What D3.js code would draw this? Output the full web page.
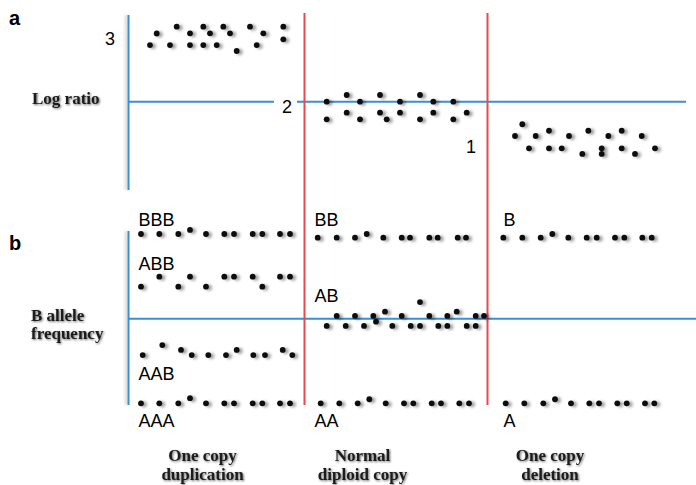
<!DOCTYPE html>
<html>
<head>
<meta charset="utf-8">
<script src="https://cdn.jsdelivr.net/npm/d3@7"></script>
<style>
  html, body { margin: 0; padding: 0; background: #fff; }
  svg { display: block; }
</style>
</head>
<body>
<svg id="chart" width="696" height="485"></svg>
<script>
// ---------------- DATA ----------------
// Region labels (bottom)
const regions = [
  ["One copy", "duplication"],
  ["Normal", "diploid copy"],
  ["One copy", "deletion"]
];
// Region boundaries (genomic position units)
const boundaries = [176.5, 359.5];

// Panel a: log ratio, [position, log ratio]
const logDup = [[28.7,0.62],[22,0.515],[48.7,0.682],[42,0.515],[62,0.622],[62,0.515],[75.3,0.682],[82,0.622],[75.3,0.515],[88.7,0.515],[95.3,0.682],[102,0.622],[108.7,0.461],[122,0.682],[135.3,0.622],[128.7,0.515],[155.3,0.682],[155.3,0.567]];
const logNormal = [[198.7,0],[198.7,-0.16],[218.7,0.061],[218.7,-0.1],[232,0],[232,-0.16],[252,0.061],[252,-0.1],[258.7,-0.16],[272,0],[272,-0.1],[292,0.061],[292,-0.16],[305.3,0],[305.3,-0.1],[325.3,0],[325.3,-0.16],[338.7,-0.1]];
const logDel = [[394.3,-0.205],[387,-0.312],[407.7,-0.312],[421,-0.264],[401,-0.424],[421,-0.424],[433.7,-0.424],[441,-0.312],[454.3,-0.475],[460.3,-0.264],[473.7,-0.424],[473.7,-0.475],[480.3,-0.312],[493.7,-0.264],[493.7,-0.424],[507,-0.475],[513.7,-0.312],[527,-0.424]];
// Copy-number labels in panel a: [label, position, log ratio]
const cnLabels = [["3",-23,0.52],["2",154,-0.1],["1",338,-0.47]];

// Panel b: B allele frequency, [position, BAF]
const bafBBB = [[13,1],[31.3,1],[50.3,1],[62,1.024],[78,1],[96.3,1],[106,1],[124.7,1],[134.3,1],[152,1],[162,1]];
const bafABB = [[13,0.689],[31.3,0.748],[50.3,0.689],[62,0.748],[78,0.689],[96.3,0.748],[106,0.748],[124.7,0.748],[134.3,0.689],[152,0.748],[162,0.748]];
const bafAAB = [[14.7,0.285],[34.3,0.344],[53,0.315],[63.7,0.285],[80.3,0.285],[98,0.285],[108.7,0.315],[125.3,0.285],[137,0.285],[154.7,0.315],[164.3,0.285]];
const bafAAA = [[13,0],[31.3,0],[50.3,0],[62,0.03],[78,0],[96.3,0],[106,0],[124.7,0],[134.3,0],[152,0],[162,0]];
const bafBB = [[189.7,0.978],[208.7,0.978],[227,0.978],[238.7,1.0],[255.3,0.978],[273.7,0.978],[282,0.978],[301.3,0.978],[309.7,0.978],[329.7,0.978],[338,0.978]];
const bafAB = [[198.7,0.457],[208.7,0.516],[217.7,0.457],[227,0.516],[236,0.457],[245.3,0.516],[248,0.482],[257,0.541],[264.3,0.457],[273.7,0.516],[282.7,0.457],[292,0.457],[292,0.598],[301.3,0.516],[310.3,0.457],[319.3,0.457],[319.3,0.516],[328.7,0.541],[338.7,0.457],[347.7,0.457],[347.7,0.516],[356,0.516]];
const bafAA = [[192.7,0],[211.3,0],[229.7,0],[241.3,0.024],[257.7,0],[276,0],[285.3,0],[303.7,0],[313,0],[331.3,0],[341,0]];
const bafB = [[375.3,0.978],[394.3,0.978],[412.7,0.978],[424.3,1.0],[440.3,0.978],[458.7,0.978],[468.7,0.978],[487,0.978],[496.3,0.978],[514.3,0.978],[523.7,0.978]];
const bafA = [[377.7,0],[396.3,0],[415.3,0],[427,0.024],[443,0],[461.3,0],[471,0],[489.3,0],[498.7,0],[517,0],[526.3,0]];
// Genotype labels in panel b: [label, position, BAF]
const gtLabels = [["BBB",10.5,1.05],["ABB",10.5,0.79],["AAB",10.5,0.14],["AAA",10.5,-0.14],
                  ["BB",186.5,1.05],["AB",186.5,0.6],["AA",186.5,-0.14],
                  ["B",375.5,1.05],["A",375.5,-0.14]];

// ---------------- DRAW ----------------
const svg = d3.select("#chart");
const BLUE = "#3a8fd2", RED = "#e8484e";

const x = d3.scaleLinear().domain([0, 558]).range([128, 686]);
const yA = d3.scaleLinear().domain([-1, 1]).range([211.7, -8.3]);
const yB = d3.scaleLinear().domain([0, 1]).range([403.3, 234]);

const defs = svg.append("defs");
const sh = defs.append("filter").attr("id","dotShadow").attr("filterUnits","userSpaceOnUse")
  .attr("x",0).attr("y",0).attr("width",696).attr("height",485);
sh.append("feGaussianBlur").attr("in","SourceAlpha").attr("stdDeviation",1.6).attr("result","b");
sh.append("feOffset").attr("in","b").attr("dx",2.5).attr("dy",1).attr("result","o");
sh.append("feComponentTransfer").attr("in","o").attr("result","s")
  .append("feFuncA").attr("type","linear").attr("slope",0.4);
const m1 = sh.append("feMerge"); m1.append("feMergeNode").attr("in","s"); m1.append("feMergeNode").attr("in","SourceGraphic");

const ts = defs.append("filter").attr("id","textShadow").attr("filterUnits","userSpaceOnUse")
  .attr("x",0).attr("y",0).attr("width",696).attr("height",485);
ts.append("feGaussianBlur").attr("in","SourceAlpha").attr("stdDeviation",1.3).attr("result","b");
ts.append("feOffset").attr("in","b").attr("dx",1).attr("dy",1.2).attr("result","o");
ts.append("feComponentTransfer").attr("in","o").attr("result","s")
  .append("feFuncA").attr("type","linear").attr("slope",0.6);
ts.append("feGaussianBlur").attr("in","SourceGraphic").attr("stdDeviation",0.45).attr("result","g");
const m2 = ts.append("feMerge"); m2.append("feMergeNode").attr("in","s"); m2.append("feMergeNode").attr("in","g");

const ls = defs.append("filter").attr("id","lineShadow").attr("filterUnits","userSpaceOnUse")
  .attr("x",0).attr("y",0).attr("width",696).attr("height",485);
ls.append("feGaussianBlur").attr("in","SourceAlpha").attr("stdDeviation",1.5).attr("result","b");
ls.append("feOffset").attr("in","b").attr("dx",-2).attr("dy",0).attr("result","o");
ls.append("feComponentTransfer").attr("in","o").attr("result","s")
  .append("feFuncA").attr("type","linear").attr("slope",0.25);
const m3 = ls.append("feMerge"); m3.append("feMergeNode").attr("in","s"); m3.append("feMergeNode").attr("in","SourceGraphic");

// Axis lines
const g = svg.append("g");
// panel a
g.append("line").attr("x1",x(0)+0.5).attr("x2",x(0)+0.5).attr("y1",15).attr("y2",190)
  .attr("stroke",BLUE).attr("stroke-width",2).attr("filter","url(#lineShadow)");
g.append("line").attr("x1",x(0)).attr("x2",x(146)).attr("y1",yA(0)).attr("y2",yA(0))
  .attr("stroke",BLUE).attr("stroke-width",2);
g.append("line").attr("x1",x(169)).attr("x2",x(558)).attr("y1",yA(0)).attr("y2",yA(0))
  .attr("stroke",BLUE).attr("stroke-width",2);
// panel b
g.append("line").attr("x1",x(0)+0.5).attr("x2",x(0)+0.5).attr("y1",231).attr("y2",405)
  .attr("stroke",BLUE).attr("stroke-width",2).attr("filter","url(#lineShadow)");
g.append("line").attr("x1",x(0)).attr("x2",696).attr("y1",yB(0.5)).attr("y2",yB(0.5))
  .attr("stroke",BLUE).attr("stroke-width",2);
// region boundaries
g.selectAll("line.bnd").data(boundaries).join("line").attr("class","bnd")
  .attr("x1",d=>x(d)).attr("x2",d=>x(d)).attr("y1",13).attr("y2",405)
  .attr("stroke",RED).attr("stroke-width",2);

// Dots
const R = 2.9;
const dotsA = [...logDup, ...logNormal, ...logDel];
svg.append("g").attr("filter","url(#dotShadow)").selectAll("circle").data(dotsA).join("circle")
  .attr("cx",d=>x(d[0])).attr("cy",d=>yA(d[1])).attr("r",R).attr("fill","#111");
const dotsB = [...bafBBB, ...bafABB, ...bafAAB, ...bafAAA, ...bafBB, ...bafAB, ...bafAA, ...bafB, ...bafA];
svg.append("g").attr("filter","url(#dotShadow)").selectAll("circle").data(dotsB).join("circle")
  .attr("cx",d=>x(d[0])).attr("cy",d=>yB(d[1])).attr("r",R).attr("fill","#111");

// Labels (sans)
const sans = "'Liberation Sans', Arial, sans-serif";
svg.append("g").selectAll("text").data(cnLabels).join("text")
  .attr("x",d=>x(d[1])).attr("y",d=>yA(d[2])).text(d=>d[0])
  .attr("font-family",sans).attr("font-size",18).attr("fill","#000");
svg.append("g").selectAll("text").data(gtLabels).join("text")
  .attr("x",d=>x(d[1])).attr("y",d=>yB(d[2])).text(d=>d[0])
  .attr("font-family",sans).attr("font-size",18).attr("fill","#000");
svg.append("text").attr("x",9).attr("y",25).text("a")
  .attr("font-family",sans).attr("font-weight","bold").attr("font-size",20);
svg.append("text").attr("x",9).attr("y",250).text("b")
  .attr("font-family",sans).attr("font-weight","bold").attr("font-size",20);

// Labels (serif, blurred)
const serif = "'Liberation Serif', 'Times New Roman', serif";
const sg = svg.append("g").attr("filter","url(#textShadow)")
  .attr("font-family",serif).attr("font-weight","bold").attr("font-size",17).attr("fill","#1a1a1a");
sg.append("text").attr("x",32).attr("y",104).text("Log ratio");
sg.append("text").attr("x",31).attr("y",321).text("B allele");
sg.append("text").attr("x",31).attr("y",339).text("frequency");
const centers = [74.5, 234.5, 422];
regions.forEach((r,i)=>{
  r.forEach((line,j)=>{
    sg.append("text").attr("x",x(centers[i])).attr("y",461 + j*19)
      .attr("text-anchor","middle").text(line);
  });
});
</script>
</body>
</html>
